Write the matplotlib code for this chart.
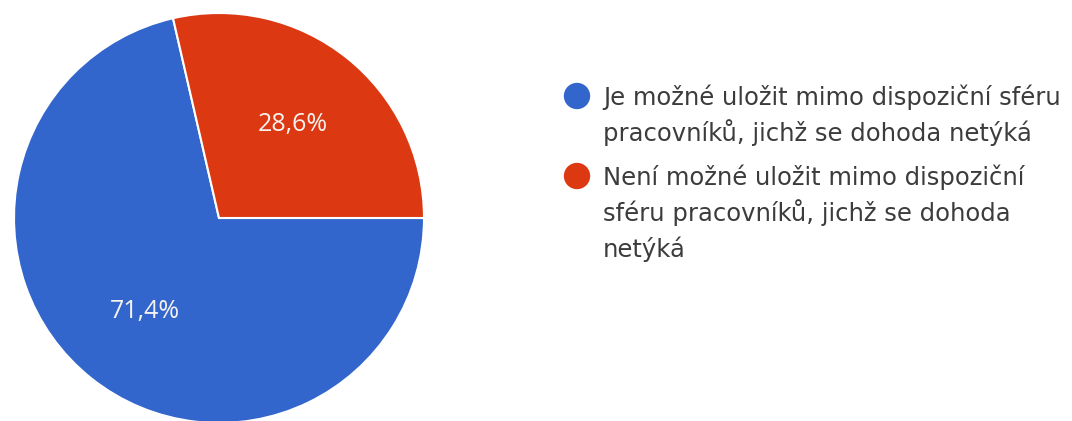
import matplotlib.pyplot as plt

labels = ["Je možné uložit mimo dispoziční sféru\npracovníků, jichž se dohoda netýká",
          "Není možné uložit mimo dispoziční\nsféru pracovníků, jichž se dohoda\nnetýká"]
shares = [71.4, 28.6]
colors = ["#3366cc", "#dc3912"]

W, H = 1072, 421
fig = plt.figure(figsize=(W / 100, H / 100), dpi=100)
ax = fig.add_axes([0, 0, 1, 1])

# pie drawn in pixel units so it can sit partly off the bottom edge
start = 360 * shares[1] / 100
wedges, texts, autotexts = ax.pie(
    shares, colors=colors, startangle=start, counterclock=True,
    center=(219, H - 218), radius=205,
    autopct=lambda p: f"{p:.1f}%".replace(".", ","), pctdistance=0.58,
    wedgeprops=dict(edgecolor="white", linewidth=1.5),
    textprops=dict(color="#f6f2f0", fontsize=18, family="Open Sans"))

ax.set_xlim(0, W)
ax.set_ylim(0, H)
ax.set_aspect("equal")
ax.axis("off")

# legend, hand placed to the right of the pie
rows = [97, 177]
line_gap = 36
for lab, col, y in zip(labels, colors, rows):
    ax.scatter([577], [H - y + 1], s=360, color=col, edgecolors="none")
    for i, line in enumerate(lab.split("\n")):
        ax.text(603, H - y - i * line_gap, line, fontsize=17.5, family="DejaVu Sans",
                color="#3c3c3c", va="center", ha="left")

fig.savefig("out.png", dpi=100, facecolor="white")
